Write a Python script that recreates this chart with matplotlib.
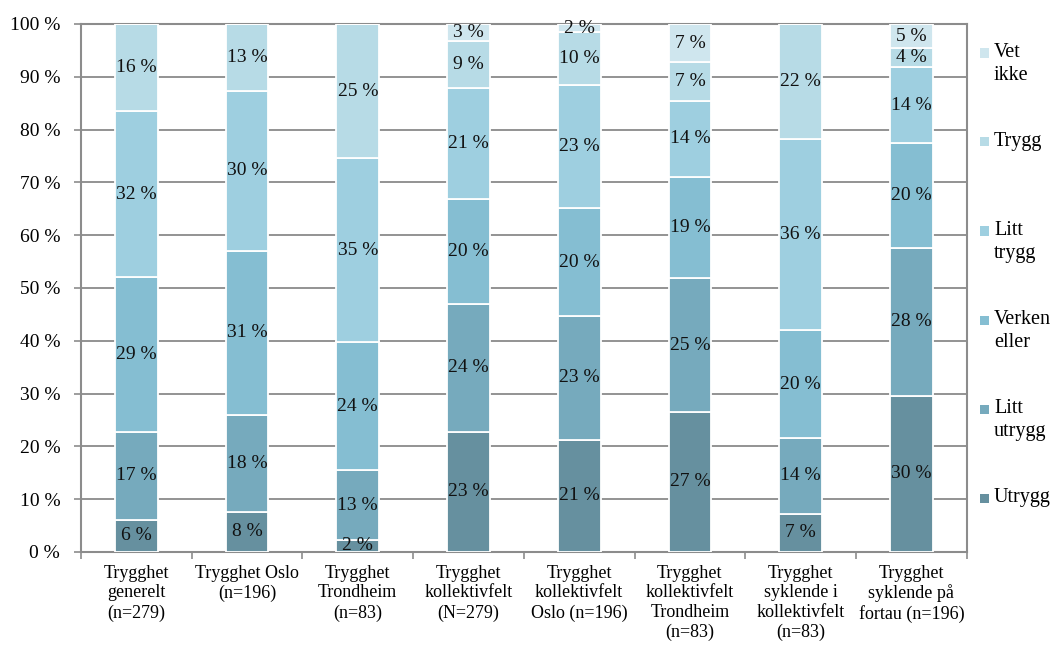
import matplotlib
matplotlib.use("Agg")
import matplotlib.pyplot as plt
from matplotlib.patches import Rectangle
import numpy as np

categories = [
    "Trygghet\ngenerelt\n(n=279)",
    "Trygghet Oslo\n(n=196)",
    "Trygghet\nTrondheim\n(n=83)",
    "Trygghet\nkollektivfelt\n(N=279)",
    "Trygghet\nkollektivfelt\nOslo (n=196)",
    "Trygghet\nkollektivfelt\nTrondheim\n(n=83)",
    "Trygghet\nsyklende i\nkollektivfelt\n(n=83)",
    "Trygghet\nsyklende på\nfortau (n=196)",
]
series_names = ["Utrygg", "Litt utrygg", "Verken eller", "Litt trygg", "Trygg", "Vet ikke"]
legend_labels = ["Utrygg", "Litt\nutrygg", "Verken\neller", "Litt\ntrygg", "Trygg", "Vet\nikke"]

utrygg       = [6.1, 7.6, 2.3, 22.8, 21.3, 26.6, 7.2, 29.6]
litt_utrygg  = [16.7, 18.3, 13.2, 24.1, 23.4, 25.2, 14.4, 28.0]
verken_eller = [29.2, 31.2, 24.2, 20.0, 20.4, 19.3, 20.4, 19.8]
litt_trygg   = [31.6, 30.2, 34.9, 20.9, 23.4, 14.4, 36.2, 14.4]
trygg        = [16.4, 12.7, 25.4, 9.0, 9.9, 7.3, 21.8, 3.6]
vet_ikke     = [0.0, 0.0, 0.0, 3.2, 1.6, 7.2, 0.0, 4.6]

colors = ["#66909f", "#76aabd", "#85bed2", "#9ecfe0", "#b7dbe6", "#cfe6ee"]

data = [utrygg, litt_utrygg, verken_eller, litt_trygg, trygg, vet_ikke]

FONT = "Liberation Serif"
FS = 14
FS_CAT = 13
FS_LEG = 14.5

fig = plt.figure(figsize=(10.55, 6.46), dpi=100)
ax = fig.add_axes([81 / 1055, 94 / 646, (966.7 - 81) / 1055, (552 - 24) / 646])

x = np.arange(len(categories))
bottom = np.zeros(len(categories))
for vals, col in zip(data, colors):
    vals = np.array(vals)
    ax.bar(x, vals, width=0.385, bottom=bottom, color=col, edgecolor="white",
           linewidth=1.3, zorder=3)
    for xi, b, v in zip(x, bottom, vals):
        if v > 0:
            ax.text(xi, b + v / 2, f"{int(round(v))} %", ha="center", va="center",
                    fontsize=FS, family=FONT, color="#111111", zorder=4)
    bottom += vals

ax.set_xlim(-0.5, len(categories) - 0.5)
ax.set_ylim(0, 100)
ax.set_yticks(np.arange(0, 101, 10))
ax.set_yticklabels([f"{v} %" for v in range(0, 101, 10)], fontsize=FS, family=FONT)
ax.set_xticks(x)
ax.set_xticklabels(categories, fontsize=FS_CAT, family=FONT, linespacing=1.22)
ax.set_xticks(np.arange(-0.5, len(categories) + 0.5, 1), minor=True)
ax.tick_params(axis="x", which="major", length=0, pad=9)
ax.tick_params(axis="x", which="minor", length=5, width=1.2, color="#8c8c8c", direction="out")
ax.tick_params(axis="y", length=5, width=1.2, color="#8c8c8c", pad=10)
ax.yaxis.grid(True, color="#8a8a8a", linewidth=1.3, zorder=0)
for s in ["left", "bottom", "top", "right"]:
    ax.spines[s].set_color("#8c8c8c")
    ax.spines[s].set_linewidth(1.5)

# Legend (manual placement, matching reference layout)
for i, (lab, col) in enumerate(zip(legend_labels[::-1], colors[::-1])):
    ypx = 53 + 89 * i
    yf = 1 - ypx / 646
    fig.patches.append(Rectangle((980 / 1055, yf - 4.5 / 646), 9 / 1055, 9 / 646,
                                 transform=fig.transFigure, facecolor=col,
                                 edgecolor="none", figure=fig))
    fig.text(994 / 1055, yf + 10 / 646, lab, ha="left", va="top", fontsize=FS_LEG,
             family=FONT, linespacing=1.3)

fig.savefig("out.png", dpi=100)
